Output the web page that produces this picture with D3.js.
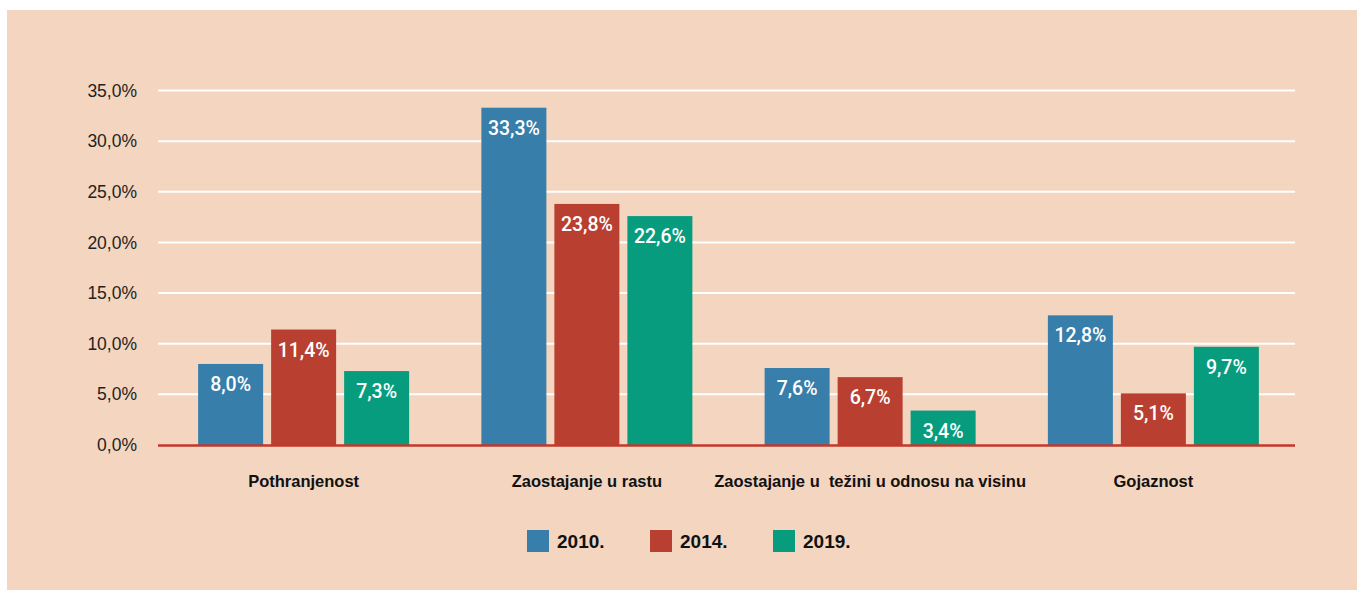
<!DOCTYPE html>
<html>
<head>
<meta charset="utf-8">
<script src="https://cdn.jsdelivr.net/npm/d3@7"></script>
<style>
  body { margin: 0; background: #fff; }
  svg { display: block; }
  text { font-family: "Liberation Sans", Arial, sans-serif; }
</style>
</head>
<body>
<div id="chart"></div>
<script>
// data
var categories = ["Pothranjenost", "Zaostajanje u rastu", "Zaostajanje u  težini u odnosu na visinu", "Gojaznost"];
var years = ["2010.", "2014.", "2019."];
var values2010 = [8.0, 33.3, 7.6, 12.8];
var values2014 = [11.4, 23.8, 6.7, 5.1];
var values2019 = [7.3, 22.6, 3.4, 9.7];
var yTicks = [0, 5, 10, 15, 20, 25, 30, 35];
var colors = ["#377eaa", "#b94030", "#079c7e"];

var series = [values2010, values2014, values2019];

var width = 1357, height = 591;

var svg = d3.select("#chart")
    .append("svg")
        .attr("width", width)
        .attr("height", height);

// Background panel
svg.append("rect")
    .attr("x", 7)
    .attr("y", 10)
    .attr("width", width - 7)
    .attr("height", 580)
    .attr("fill", "#f3d5c0");

var y = d3.scaleLinear()
    .domain([0, 35])
    .range([445, 90.5]);

var x0 = d3.scaleBand()
    .domain(categories)
    .range([162, 1295])
    .paddingInner(0)
    .paddingOuter(0);

var x1 = d3.scaleBand()
    .domain(d3.range(years.length))
    .range([(x0.bandwidth() - 211) / 2, (x0.bandwidth() + 211) / 2])
    .paddingInner(8 / 73);

var fmt = function(v) { return d3.format(".1f")(v).replace(".", ",") + "%"; };

// Gridlines
svg.append("g")
    .selectAll("line")
    .data(yTicks.filter(function(d) { return d > 0; }))
    .enter()
    .append("line")
        .attr("x1", 158)
        .attr("x2", 1295)
        .attr("y1", function(d) { return y(d); })
        .attr("y2", function(d) { return y(d); })
        .attr("stroke", "#ffffff")
        .attr("stroke-width", 2);

// Y axis labels
var yAxis = d3.axisLeft(y)
    .tickValues(yTicks)
    .tickSize(0)
    .tickPadding(0)
    .tickFormat(fmt);

var gy = svg.append("g")
    .attr("transform", "translate(137,0)")
    .call(yAxis);
gy.select(".domain").remove();
gy.selectAll("text")
    .style("font-size", "17.5px")
    .style("fill", "#231f20")
    .style("font-family", "Liberation Sans, Arial, sans-serif");

// Bars
var groups = svg.selectAll(".grp")
    .data(categories)
    .enter()
    .append("g")
        .attr("class", "grp")
        .attr("transform", function(d) { return "translate(" + x0(d) + ",0)"; });

groups.each(function(cat, ci) {
    var g = d3.select(this);
    series.forEach(function(s, si) {
        var v = s[ci];
        g.append("rect")
            .attr("x", x1(si))
            .attr("y", y(v))
            .attr("width", x1.bandwidth())
            .attr("height", y(0) - y(v))
            .attr("fill", colors[si]);
        g.append("text")
            .attr("x", x1(si) + x1.bandwidth() / 2)
            .attr("y", y(v) + 27)
            .attr("text-anchor", "middle")
            .style("font-family", "Roboto, Liberation Sans, sans-serif")
            .style("font-size", "19.5px")
            .style("font-weight", "500")
            .style("fill", "#ffffff")
            .text(fmt(v));
    });
});

// Zero baseline
svg.append("line")
    .attr("x1", 158)
    .attr("x2", 1295)
    .attr("y1", y(0) + 0.5)
    .attr("y2", y(0) + 0.5)
    .attr("stroke", "#c0392b")
    .attr("stroke-width", 2.5);

// Category labels
var xAxis = d3.axisBottom(x0).tickSize(0).tickPadding(0);
var gx = svg.append("g")
    .attr("transform", "translate(0,475)")
    .call(xAxis);
gx.select(".domain").remove();
gx.selectAll("text")
    .style("font-size", "16.5px")
    .style("font-weight", "bold")
    .style("fill", "#111")
    .style("white-space", "pre")
    .style("font-family", "Liberation Sans, Arial, sans-serif");

// Legend
var legendX = [527, 650, 773];
var legend = svg.selectAll(".leg")
    .data(years)
    .enter()
    .append("g")
        .attr("class", "leg")
        .attr("transform", function(d, i) { return "translate(" + legendX[i] + ",530)"; });

legend.append("rect")
    .attr("width", 22)
    .attr("height", 22)
    .attr("fill", function(d, i) { return colors[i]; });

legend.append("text")
    .attr("x", 30)
    .attr("y", 18)
    .style("font-size", "19px")
    .style("font-weight", "bold")
    .style("fill", "#111")
    .text(function(d) { return d; });
</script>
</body>
</html>
